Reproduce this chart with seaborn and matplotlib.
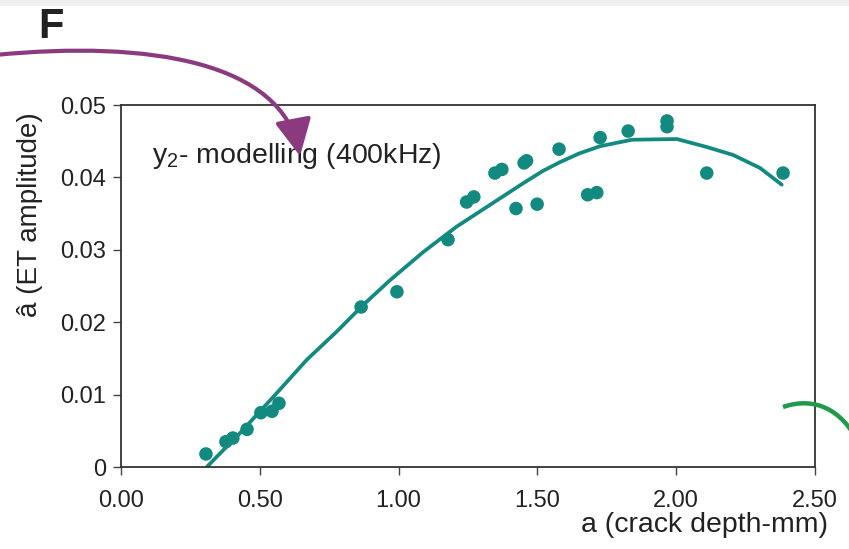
import matplotlib
matplotlib.use("Agg")
import matplotlib.pyplot as plt
from matplotlib.patches import FancyArrowPatch, PathPatch, Rectangle
from matplotlib.path import Path
import seaborn as sns

# measured points (crack depth mm, ET amplitude)
crack_depth = [0.306, 0.378, 0.403, 0.454, 0.504, 0.544, 0.569, 0.865, 0.994,
               1.178, 1.245, 1.271, 1.347, 1.372, 1.423, 1.452, 1.461, 1.499,
               1.578, 1.681, 1.714, 1.726, 1.827, 1.967, 1.967, 2.110, 2.385]
et_amplitude = [0.0018, 0.0035, 0.0040, 0.0052, 0.0075, 0.0077, 0.0088, 0.0221, 0.0242,
                0.0314, 0.0366, 0.0373, 0.0406, 0.0411, 0.0357, 0.0420, 0.0423, 0.0363,
                0.0439, 0.0376, 0.0379, 0.0455, 0.0464, 0.0478, 0.0470, 0.0406, 0.0406]

# fitted model curve
fit_depth = [0.309, 0.429, 0.549, 0.669, 0.777, 0.873, 0.969, 1.089, 1.209, 1.329,
             1.449, 1.520, 1.581, 1.650, 1.725, 1.840, 2.002, 2.110, 2.205, 2.302, 2.380]
fit_amplitude = [0.0, 0.0047, 0.0097, 0.0148, 0.0187, 0.0224, 0.0258, 0.0297, 0.0332, 0.0362,
                 0.0392, 0.0409, 0.0421, 0.0433, 0.0443, 0.0452, 0.0453, 0.0442, 0.0431,
                 0.0413, 0.0390]

x_ticks = [0.0, 0.5, 1.0, 1.5, 2.0, 2.5]
y_ticks = [0.0, 0.01, 0.02, 0.03, 0.04, 0.05]
y_tick_labels = ["0", "0.01", "0.02", "0.03", "0.04", "0.05"]

teal = "#138a80"
ink = "#222222"

sns.set_theme(style="white")
plt.rcParams["font.family"] = ["Liberation Sans", "DejaVu Sans"]

W, H = 849, 549
fig = plt.figure(figsize=(W / 100, H / 100), dpi=100)
ax = fig.add_axes([121 / W, 1 - 467 / H, (815 - 121) / W, (467 - 105) / H])

sns.lineplot(x=fit_depth, y=fit_amplitude, ax=ax, color=teal, linewidth=2.7,
             sort=False, estimator=None)
sns.scatterplot(x=crack_depth, y=et_amplitude, ax=ax, color=teal, s=95,
                edgecolor="none", zorder=3)

ax.set_xlim(0, 2.5)
ax.set_ylim(0, 0.05)
ax.set_xticks(x_ticks)
ax.set_xticklabels([f"{v:.2f}" for v in x_ticks])
ax.set_yticks(y_ticks)
ax.set_yticklabels(y_tick_labels)
ax.tick_params(axis="both", direction="out", length=5.5, width=1, color="#444444",
               labelsize=17, labelcolor=ink)
ax.tick_params(axis="x", pad=11, bottom=True)
ax.tick_params(axis="y", pad=5, left=True)
for sp in ax.spines.values():
    sp.set_color("#333333")
    sp.set_linewidth(1.3)

ax.set_ylabel("â (ET amplitude)", fontsize=20, color=ink)
ax.yaxis.set_label_coords(-0.112, 0.696)
ax.set_xlabel("a (crack depth-mm)", fontsize=20.5, color=ink, loc="right")
ax.xaxis.set_label_coords(1.019, -0.125)

ax.text(0.045, 0.84, r"y$_\mathregular{2}$- modelling (400kHz)", transform=ax.transAxes,
        fontsize=20.5, color=ink, va="baseline", ha="left")

# panel letter
fig.text(38 / W, 1 - 38 / H, "F", fontsize=30, fontweight="bold", color=ink,
         va="baseline", ha="left")

# light band at top
fig.patches.append(Rectangle((0, 1 - 6 / H), 1, 6 / H, transform=fig.transFigure,
                             facecolor="#efefef", edgecolor="none", zorder=0))


def px(xp, yp):
    return (xp / W, 1 - yp / H)


# purple arrow from the left
arrow_path = Path([px(-5, 55), px(150, 40), px(282, 62), px(300, 156)],
                  [Path.MOVETO, Path.CURVE4, Path.CURVE4, Path.CURVE4])
arrow = FancyArrowPatch(path=arrow_path, arrowstyle="-|>,head_length=14,head_width=7",
                        color="#8b3a80", linewidth=3, transform=fig.transFigure,
                        mutation_scale=1.6, zorder=6)
fig.patches.append(arrow)

# green arc in the lower right corner
arc_path = Path([px(783, 407), px(815, 396), px(842, 410), px(858, 442)],
                [Path.MOVETO, Path.CURVE4, Path.CURVE4, Path.CURVE4])
fig.patches.append(PathPatch(arc_path, facecolor="none", edgecolor="#1e9a4a",
                             linewidth=3.2, transform=fig.transFigure, zorder=5))

fig.savefig("out.png", dpi=100)
